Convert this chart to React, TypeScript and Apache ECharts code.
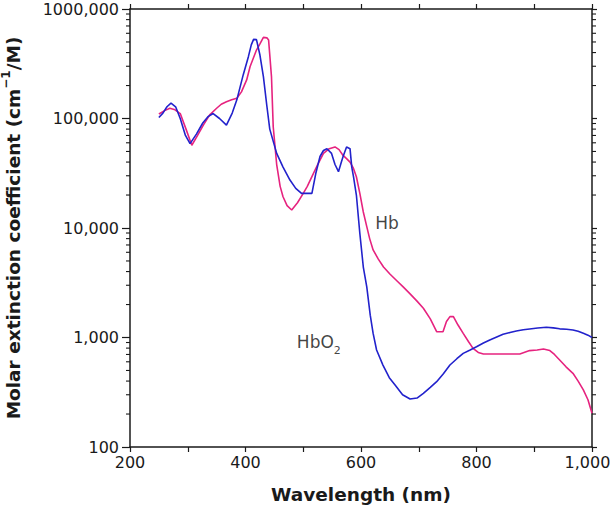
import React, { useEffect, useRef } from "react";
import * as echarts from "echarts";

// HbO2 (blue) spectrum: wavelength (nm) and molar extinction coefficient (cm^-1/M)
const hbo2Wavelength = [
  250, 257, 264, 271, 279, 287, 296, 304, 315, 326, 335, 344, 355, 367, 377, 385, 396, 405, 410, 414,
  419, 425, 431, 437, 442, 454, 465, 477, 487, 497, 515, 522, 529, 535, 541, 549, 555, 561, 566, 569,
  575, 581, 584, 587, 592, 598, 604, 610, 616, 621, 627, 638, 649, 659, 672, 685, 697, 708, 720, 731,
  743, 754, 766, 777, 789, 800, 812, 823, 835, 846, 858, 869, 881, 892, 906, 921, 933, 944, 956, 967,
  976, 985, 993, 1000,
];
const hbo2Values = [
  102000, 112000, 128000, 138000, 128000, 100000, 70000, 59000, 72000, 91000, 104000, 111000, 100000,
  87000, 112000, 148000, 250000, 367000, 470000, 528000, 525000, 380000, 241000, 130000, 80000, 48000,
  36000, 27400, 23000, 20700, 20700, 32000, 45000, 51000, 53000, 48000, 38000, 32700, 40000, 45000,
  55000, 53000, 36000, 29400, 20000, 8900, 4400, 2900, 1600, 1090, 769, 560, 430, 368, 300, 274, 280,
  309, 350, 395, 470, 561, 640, 716, 770, 824, 890, 949, 1010, 1069, 1110, 1146, 1175, 1197, 1220,
  1239, 1225, 1200, 1190, 1170, 1140, 1092, 1050, 1000,
];

// Hb (magenta) spectrum
const hbWavelength = [
  250, 260, 269, 278, 287, 297, 307, 317, 327, 338, 350, 358, 367, 376, 385, 393, 402, 408, 414, 419,
  425, 431, 437, 440, 445, 448, 454, 460, 465, 472, 480, 490, 500, 507, 515, 525, 535, 545, 555, 562,
  569, 575, 581, 587, 592, 598, 604, 610, 615, 621, 630, 639, 650, 662, 673, 685, 697, 708, 720, 731,
  742, 748, 754, 760, 768, 777, 786, 794, 803, 812, 841, 875, 892, 905, 916, 927, 935, 944, 955, 967,
  976, 985, 993, 1000,
];
const hbValues = [
  110000, 118000, 124000, 120000, 111000, 80000, 57000, 70000, 87000, 108000, 124000, 135000, 142000,
  148000, 153000, 175000, 225000, 298000, 360000, 422000, 480000, 551000, 545000, 520000, 241000, 84000,
  38000, 24000, 19300, 16000, 14600, 17000, 20700, 24000, 29400, 38000, 48000, 53000, 55000, 52000,
  46000, 43000, 40000, 35000, 29400, 20700, 14000, 10300, 8000, 6300, 5200, 4400, 3800, 3300, 2900,
  2500, 2150, 1850, 1480, 1130, 1130, 1400, 1550, 1550, 1300, 1090, 920, 796, 730, 707, 707, 707, 759,
  770, 786, 760, 700, 624, 540, 471, 400, 332, 270, 203,
];

// Axis tick labels
const xLabelValues = [200, 400, 600, 800, 1000];
const xLabelTexts = ["200", "400", "600", "800", "1,000"];
const yLabelValues = [100, 1000, 10000, 100000, 1000000];
const yLabelTexts = ["100", "1,000", "10,000", "100,000", "1000,000"];
const yMinorTicks = [
  200, 300, 400, 500, 600, 700, 800, 900,
  2000, 3000, 4000, 5000, 6000, 7000, 8000, 9000,
  20000, 30000, 40000, 50000, 60000, 70000, 80000, 90000,
  200000, 300000, 400000, 500000, 600000, 700000, 800000, 900000,
];

// Curve annotations
const annotations = [
  { name: "Hb", x: 645, y: 11200, text: "{n|Hb}" },
  { name: "HbO2", x: 527, y: 919, text: "{n|HbO}{s|2}" },
];

const X_MIN = 200;
const X_MAX = 1000;

export default function App() {
  const ref = useRef<HTMLDivElement>(null);

  useEffect(() => {
    if (!ref.current) return;
    const chart = echarts.init(ref.current, null, { renderer: "svg" });
    const axisColor = "#1a1a1a";
    const tickFont = { fontFamily: "DejaVu Sans", fontSize: 16, color: "#1a1a1a" };

    const option: any = {
      animation: false,
      backgroundColor: "#ffffff",
      grid: {
        left: 130,
        right: 20,
        top: 9,
        bottom: 62,
        containLabel: false,
        outerBoundsMode: "none",
      },
      xAxis: [
        {
          type: "value",
          min: X_MIN,
          max: X_MAX,
          interval: 100,
          position: "bottom",
          name: "Wavelength (nm)",
          nameLocation: "middle",
          nameGap: 38,
          nameTextStyle: {
            fontFamily: "DejaVu Sans",
            fontWeight: "bold",
            fontSize: 18.5,
            color: "#1a1a1a",
          },
          axisLine: { show: true, lineStyle: { color: axisColor, width: 1.5 } },
          axisTick: { show: true, length: 5, lineStyle: { color: axisColor, width: 1.2 } },
          axisLabel: {
            ...tickFont,
            margin: 7,
            formatter: (v: number) => {
              const i = xLabelValues.indexOf(v);
              if (i < 0) return "";
              return i === xLabelValues.length - 1 ? `{r|${xLabelTexts[i]}}` : xLabelTexts[i];
            },
            rich: {
              r: { ...tickFont, padding: [0, 9, 0, 0] },
            },
          },
          splitLine: { show: false },
        },
        {
          type: "value",
          min: X_MIN,
          max: X_MAX,
          interval: 100,
          position: "top",
          axisLine: { show: true, lineStyle: { color: axisColor, width: 1.5 } },
          axisTick: { show: true, length: 5, lineStyle: { color: axisColor, width: 1.2 } },
          axisLabel: { show: false },
          splitLine: { show: false },
        },
      ],
      yAxis: [
        {
          type: "log",
          logBase: 10,
          min: 100,
          max: 1000000,
          position: "left",
          name: "{a|Molar extinction coefficient (cm}{b|−1}{a|/M)}",
          nameLocation: "middle",
          nameGap: 104,
          nameTextStyle: {
            rich: {
              a: {
                fontFamily: "DejaVu Sans",
                fontWeight: "bold",
                fontSize: 18.5,
                color: "#1a1a1a",
                lineHeight: 26,
              },
              b: {
                fontFamily: "DejaVu Sans",
                fontWeight: "bold",
                fontSize: 12,
                color: "#1a1a1a",
                lineHeight: 12,
                verticalAlign: "top",
              },
            },
          },
          axisLine: { show: true, lineStyle: { color: axisColor, width: 1.5 } },
          axisTick: { show: true, length: 8, lineStyle: { color: axisColor, width: 1.2 } },
          axisLabel: {
            ...tickFont,
            margin: 11,
            formatter: (v: number) => {
              const i = yLabelValues.findIndex((t) => Math.abs(t - v) / t < 1e-6);
              return i >= 0 ? yLabelTexts[i] : "";
            },
          },
          splitLine: { show: false },
        },
        {
          type: "log",
          logBase: 10,
          min: 100,
          max: 1000000,
          position: "right",
          axisLine: { show: true, lineStyle: { color: axisColor, width: 1.5 } },
          axisTick: { show: true, length: 5, lineStyle: { color: axisColor, width: 1.2 } },
          axisLabel: { show: false },
          splitLine: { show: false },
        },
      ],
      series: [
        {
          name: "Hb",
          type: "line",
          xAxisIndex: 0,
          yAxisIndex: 0,
          showSymbol: false,
          symbol: "none",
          smooth: false,
          lineStyle: { color: "#e6237f", width: 1.6 },
          data: hbWavelength.map((w, i) => [w, hbValues[i]]),
          z: 3,
        },
        {
          name: "HbO2",
          type: "line",
          xAxisIndex: 0,
          yAxisIndex: 0,
          showSymbol: false,
          symbol: "none",
          smooth: false,
          lineStyle: { color: "#2222cc", width: 1.6 },
          data: hbo2Wavelength.map((w, i) => [w, hbo2Values[i]]),
          z: 4,
        },
        {
          name: "minorTicks",
          type: "custom",
          xAxisIndex: 0,
          yAxisIndex: 0,
          silent: true,
          clip: false,
          data: yMinorTicks.map((v) => [X_MIN, v]),
          renderItem: (params: any, api: any) => {
            const v = api.value(1);
            const pL = api.coord([X_MIN, v]);
            const pR = api.coord([X_MAX, v]);
            const style = { stroke: axisColor, lineWidth: 1.1 };
            return {
              type: "group",
              children: [
                { type: "line", shape: { x1: pL[0] - 4, y1: pL[1], x2: pL[0], y2: pL[1] }, style },
                { type: "line", shape: { x1: pR[0], y1: pR[1], x2: pR[0] + 4, y2: pR[1] }, style },
              ],
            };
          },
          z: 5,
        },
        {
          name: "labels",
          type: "scatter",
          xAxisIndex: 0,
          yAxisIndex: 0,
          symbolSize: 0,
          silent: true,
          data: annotations.map((a) => ({ value: [a.x, a.y], text: a.text })),
          label: {
            show: true,
            position: "inside",
            formatter: (p: any) => p.data.text,
            rich: {
              n: { fontFamily: "DejaVu Sans", fontSize: 17, color: "#111111", lineHeight: 28 },
              s: {
                fontFamily: "DejaVu Sans",
                fontSize: 11,
                color: "#111111",
                lineHeight: 11,
                verticalAlign: "bottom",
              },
            },
          },
          z: 6,
        },
      ],
    };

    chart.setOption(option);
    return () => chart.dispose();
  }, []);

  return (
    <div
      ref={ref}
      style={{ position: "fixed", left: 0, top: 0, width: 612, height: 509 }}
    />
  );
}
